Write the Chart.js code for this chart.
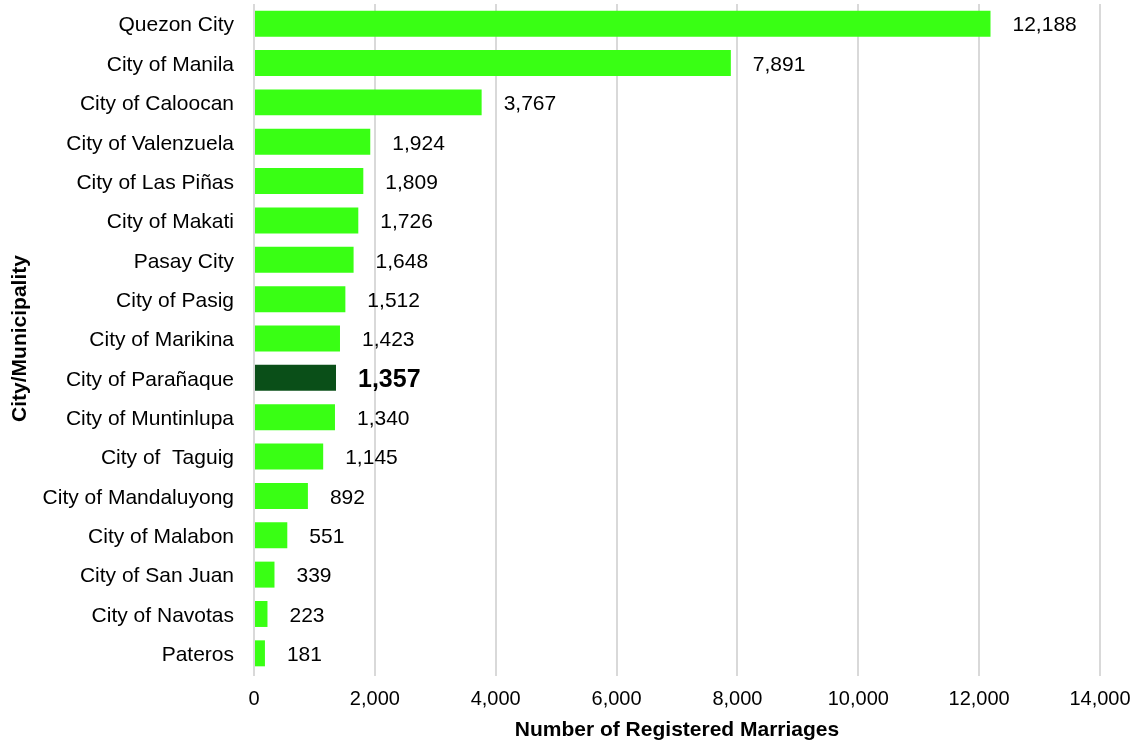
<!DOCTYPE html>
<html>
<head>
<meta charset="utf-8">
<script src="https://cdn.jsdelivr.net/npm/chart.js@4"></script>
<style>
  html, body { margin: 0; padding: 0; background: #fff; }
  #wrap { width: 1142px; height: 743px; }
</style>
</head>
<body>
<div id="wrap"><canvas id="marriageChart"></canvas></div>
<script>
const cities = [
  "Quezon City", "City of Manila", "City of Caloocan", "City of Valenzuela",
  "City of Las Piñas", "City of Makati", "Pasay City", "City of Pasig",
  "City of Marikina", "City of Parañaque", "City of Muntinlupa", "City of  Taguig",
  "City of Mandaluyong", "City of Malabon", "City of San Juan", "City of Navotas",
  "Pateros",
];
const marriages = [
  12188, 7891, 3767, 1924, 1809, 1726, 1648, 1512, 1423, 1357, 1340, 1145,
  892, 551, 339, 223, 181,
];
const highlightCity = "City of Parañaque";
const xTicks = [0, 2000, 4000, 6000, 8000, 10000, 12000, 14000];

const FONT = "'Liberation Sans', Arial, sans-serif";
const BRIGHT = "#39ff14";
const DARK = "#0a4f18";

const fmt = (v) => v.toLocaleString("en-US");

// value labels to the right of each bar
const valueLabels = {
  id: "valueLabels",
  afterDatasetsDraw(chart) {
    const ctx = chart.ctx;
    const meta = chart.getDatasetMeta(0);
    ctx.save();
    ctx.textBaseline = "middle";
    ctx.textAlign = "left";
    ctx.fillStyle = "#000";
    meta.data.forEach((bar, i) => {
      const hi = cities[i] === highlightCity;
      ctx.font = hi ? "bold 25px " + FONT : "21px " + FONT;
      ctx.fillText(fmt(marriages[i]), bar.x + 22, bar.y + 2);
    });
    ctx.restore();
  },
};

new Chart(document.getElementById("marriageChart"), {
  type: "bar",
  data: {
    labels: cities,
    datasets: [
      {
        data: marriages,
        backgroundColor: cities.map((c) => (c === highlightCity ? DARK : BRIGHT)),
        borderWidth: 0,
        barPercentage: 0.66,
        categoryPercentage: 1,
      },
    ],
  },
  options: {
    indexAxis: "y",
    responsive: true,
    maintainAspectRatio: false,
    animation: false,
    layout: { padding: { top: 4, right: 42, bottom: 0, left: 8 } },
    plugins: { legend: { display: false }, tooltip: { enabled: false } },
    scales: {
      x: {
        min: 0,
        max: 14000,
        afterBuildTicks: (axis) => {
          axis.ticks = xTicks.map((v) => ({ value: v }));
        },
        grid: { color: "#d9d9d9", lineWidth: 2, drawTicks: true, tickLength: 3 },
        border: { display: false },
        ticks: {
          color: "#000",
          font: { family: FONT, size: 20 },
          padding: 11,
          callback: (v) => fmt(v),
          maxRotation: 0,
        },
        title: {
          display: true,
          text: "Number of Registered Marriages",
          color: "#000",
          font: { family: FONT, size: 21, weight: "bold" },
          padding: { top: 0, bottom: 0 },
        },
        afterFit: (axis) => {
          axis.height = 70;
        },
      },
      y: {
        grid: { display: false, drawTicks: true, tickLength: 20 },
        border: { display: false },
        ticks: {
          color: "#000",
          font: { family: FONT, size: 21, lineHeight: 0.3 },
          padding: 0,
          labelOffset: 2,
          autoSkip: false,
        },
        title: {
          display: true,
          text: "City/Municipality",
          color: "#000",
          font: { family: FONT, size: 21, weight: "bold" },
          padding: { top: 0, bottom: 0 },
        },
        afterFit: (axis) => {
          axis.width = 246;
        },
      },
    },
  },
  plugins: [valueLabels],
});
</script>
</body>
</html>
